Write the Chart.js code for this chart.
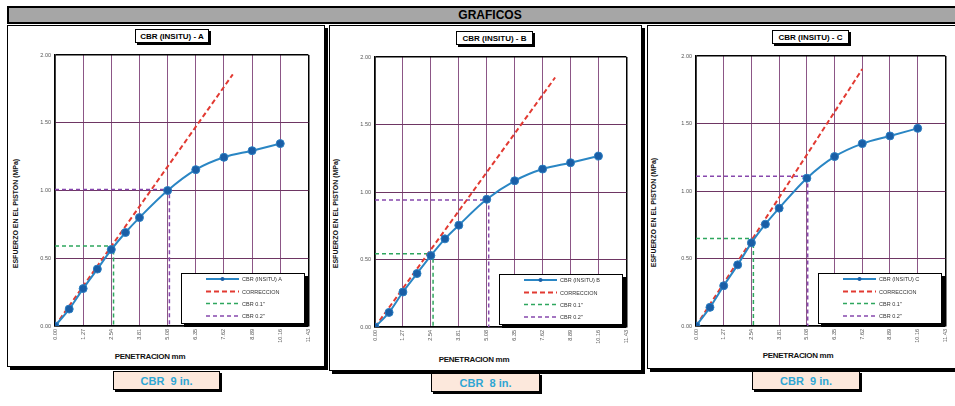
<!DOCTYPE html>
<html>
<head>
<meta charset="utf-8">
<title>GRAFICOS CBR</title>
<script src="https://cdn.jsdelivr.net/npm/chart.js@4.4.1/dist/chart.umd.min.js"></script>
<style>
  body { margin: 0; width: 955px; height: 406px; overflow: hidden; position: relative; background: #fff;
         font-family: 'Liberation Sans', Arial, sans-serif; }
  .header { position: absolute; left: 7px; top: 6px; width: 962px; height: 14px; background: #a6a6a6;
            border: 2px solid #000; text-align: center; font-weight: bold; font-size: 12px; line-height: 15px; }
  .panel { position: absolute; top: 25px; background: #fff; border: 1px solid #000; box-shadow: 3px 3px 0 #000; }
  .ttl { position: absolute; height: 12px; background: #fff; border: 1px solid #000; box-shadow: 2px 2px 0 #000;
         font-weight: bold; font-size: 8px; line-height: 13px; text-align: center; }
  .ytitle { position: absolute; width: 130px; height: 9px; font-weight: bold; font-size: 7px; line-height: 9px;
            text-align: center; transform: rotate(-90deg); color: #111; }
  .xtitle { position: absolute; width: 100px; height: 10px; font-weight: bold; font-size: 8px; line-height: 10px;
            text-align: center; letter-spacing: -0.3px; color: #111; }
  .cbr { position: absolute; height: 17px; background: #fce8dc; border: 1px solid #000; box-shadow: 2px 2px 0 #000;
         color: #2fa6d4; font-weight: bold; font-size: 11px; line-height: 18px; text-align: center; }
  canvas { position: absolute; }
</style>
</head>
<body>
<div class="header">GRAFICOS</div>

<div class="panel" style="left:7px;width:316px;height:340px;"></div>
<div class="panel" style="left:329px;width:311px;height:344px;"></div>
<div class="panel" style="left:647px;width:315px;height:342px;"></div>

<div class="ttl" style="left:135px;top:29px;width:72px;">CBR (INSITU) - A</div>
<div class="ttl" style="left:456px;top:31px;width:75px;">CBR (INSITU) - B</div>
<div class="ttl" style="left:772px;top:30px;width:75px;">CBR (INSITU) - C</div>

<div class="ytitle" style="left:-50px;top:209px;">ESFUERZO EN EL PISTON (MPa)</div>
<div class="ytitle" style="left:270px;top:209px;">ESFUERZO EN EL PISTON (MPa)</div>
<div class="ytitle" style="left:588px;top:208px;">ESFUERZO EN EL PISTON (MPa)</div>

<div class="xtitle" style="left:100px;top:352px;">PENETRACION mm</div>
<div class="xtitle" style="left:424px;top:355px;">PENETRACION mm</div>
<div class="xtitle" style="left:748px;top:351px;">PENETRACION mm</div>

<div class="cbr" style="left:113px;top:371px;width:105px;">CBR&nbsp; 9 in.</div>
<div class="cbr" style="left:431px;top:373px;width:107px;">CBR&nbsp; 8 in.</div>
<div class="cbr" style="left:752px;top:371px;width:106px;">CBR&nbsp; 9 in.</div>

<canvas id="chart-a"></canvas>
<canvas id="chart-b"></canvas>
<canvas id="chart-c"></canvas>

<script>
// penetracion (mm) y esfuerzo (MPa)
const xTicks = [0, 1.27, 2.54, 3.81, 5.08, 6.35, 7.62, 8.89, 10.16, 11.43];
const penetracion = [0, 0.64, 1.27, 1.91, 2.54, 3.18, 3.81, 5.08, 6.35, 7.62, 8.89, 10.16];
const esfuerzoA = [0, 0.125, 0.276, 0.42, 0.564, 0.69, 0.80, 1.00, 1.154, 1.245, 1.294, 1.346];
const esfuerzoB = [0, 0.108, 0.259, 0.396, 0.529, 0.653, 0.754, 0.946, 1.083, 1.17, 1.217, 1.266];
const esfuerzoC = [0, 0.138, 0.298, 0.453, 0.616, 0.754, 0.873, 1.095, 1.255, 1.351, 1.408, 1.464];

// linea de correccion: desde el origen hasta el punto final (A, B, C)
const corrEndX = [8.02, 8.19, 7.62];
const corrEndY = [1.857, 1.848, 1.903];
// CBR 0.1" y CBR 0.2" (A, B, C)
const cbr01X = [2.64, 2.64, 2.63];
const cbr01Y = [0.59, 0.542, 0.649];
const cbr02X = [5.16, 5.17, 5.12];
const cbr02Y = [1.007, 0.94, 1.109];

const seriesLabels = ['CBR (INSITU) A', 'CBR (INSITU) B', 'CBR (INSITU) C'];
const otherLabels = ['CORRECCION', 'CBR 0.1"', 'CBR 0.2"'];

const FONT = "'Liberation Sans', Arial, sans-serif";

// leyenda dentro del area del grafico, abajo a la derecha
const legendBox = {
  id: 'legendBox',
  afterDatasetsDraw(chart) {
    const { ctx, chartArea } = chart;
    const w = 124, h = 51;
    const x = Math.round(chartArea.right - 3 - w);
    const y = Math.round(chartArea.bottom - 2 - h);
    const rows = [6, 18.5, 30.5, 43];
    ctx.save();
    ctx.fillStyle = '#000';
    ctx.fillRect(x + 3, y + 3, w, h);
    ctx.fillStyle = '#fff';
    ctx.fillRect(x, y, w, h);
    ctx.strokeStyle = '#000';
    ctx.lineWidth = 1;
    ctx.strokeRect(x + 0.5, y + 0.5, w - 1, h - 1);
    chart.data.datasets.forEach((ds, i) => {
      const ry = y + rows[i];
      ctx.strokeStyle = ds.borderColor;
      ctx.lineWidth = ds.borderWidth;
      ctx.setLineDash(ds.borderDash || []);
      ctx.beginPath();
      ctx.moveTo(x + 25, ry);
      ctx.lineTo(x + 58, ry);
      ctx.stroke();
      ctx.setLineDash([]);
      if (ds.pointRadius) {
        ctx.fillStyle = ds.pointBackgroundColor;
        ctx.beginPath();
        ctx.arc(x + 41.5, ry, 2, 0, Math.PI * 2);
        ctx.fill();
      }
      ctx.fillStyle = '#333';
      ctx.font = '5.5px ' + FONT;
      ctx.textBaseline = 'middle';
      ctx.fillText(ds.label, x + 61, ry + 0.5);
    });
    ctx.restore();
  }
};

function makePanel(id, idx, values, area) {
  // area = plot area in page pixels: left, top, right, bottom
  const padL = 30, padT = 10, padR = 8, padB = 24;
  const canvas = document.getElementById(id);
  const left = area.left - padL, top = area.top - padT;
  const width = area.right + padR - left, height = area.bottom + padB - top;
  canvas.width = width; canvas.height = height;
  canvas.style.left = left + 'px'; canvas.style.top = top + 'px';
  canvas.style.width = width + 'px'; canvas.style.height = height + 'px';

  const blue = penetracion.map((p, i) => ({ x: p, y: values[i] }));
  const corr = [{ x: 0, y: 0 }, { x: corrEndX[idx], y: corrEndY[idx] }];
  const c01 = [{ x: 0, y: cbr01Y[idx] }, { x: cbr01X[idx], y: cbr01Y[idx] }, { x: cbr01X[idx], y: 0 }];
  const c02 = [{ x: 0, y: cbr02Y[idx] }, { x: cbr02X[idx], y: cbr02Y[idx] }, { x: cbr02X[idx], y: 0 }];

  return new Chart(canvas.getContext('2d'), {
    type: 'line',
    data: {
      datasets: [
        { label: seriesLabels[idx], data: blue, borderColor: '#2a86c4', borderWidth: 2,
          pointRadius: 4, pointBackgroundColor: '#1a5ea6', pointBorderColor: '#2c7fc2', pointBorderWidth: 1,
          cubicInterpolationMode: 'monotone' },
        { label: otherLabels[0], data: corr, borderColor: '#e23a32', borderWidth: 2, borderDash: [5, 3], pointRadius: 0 },
        { label: otherLabels[1], data: c01, borderColor: '#2ea65e', borderWidth: 1.5, borderDash: [4, 3], pointRadius: 0 },
        { label: otherLabels[2], data: c02, borderColor: '#8748ad', borderWidth: 1.5, borderDash: [4, 3], pointRadius: 0 }
      ]
    },
    options: {
      responsive: false,
      animation: false,
      devicePixelRatio: 1,
      layout: { padding: { top: padT, right: padR, left: 0, bottom: 0 } },
      plugins: { legend: { display: false }, tooltip: { enabled: false } },
      scales: {
        x: {
          type: 'linear', min: 0, max: 11.43,
          afterBuildTicks: s => { s.ticks = xTicks.map(v => ({ value: v })); },
          afterFit: s => { s.height = padB; },
          border: { display: true, color: '#000', width: 1.5 },
          grid: {
            drawTicks: false,
            color: c => (c.index === 0 || c.index === xTicks.length - 1) ? '#000' : '#8c5686',
            lineWidth: c => (c.index === 0 || c.index === xTicks.length - 1) ? 1.5 : 1
          },
          ticks: {
            autoSkip: false, minRotation: 90, maxRotation: 90, padding: 3,
            color: '#555', font: { family: FONT, size: 5.5 },
            callback: v => v.toFixed(2)
          }
        },
        y: {
          min: 0, max: 2,
          afterFit: s => { s.width = padL; },
          border: { display: true, color: '#000', width: 1.5 },
          grid: {
            drawTicks: false,
            color: c => (c.tick.value === 0 || c.tick.value === 2) ? '#000' : '#6e3663',
            lineWidth: c => (c.tick.value === 0 || c.tick.value === 2) ? 1.5 : 1
          },
          ticks: {
            stepSize: 0.5, padding: 4,
            color: '#555', font: { family: FONT, size: 5.5 },
            callback: v => v.toFixed(2)
          }
        }
      }
    },
    plugins: [legendBox]
  });
}

makePanel('chart-a', 0, esfuerzoA, { left: 55, top: 55, right: 310, bottom: 326 });
makePanel('chart-b', 1, esfuerzoB, { left: 375, top: 57, right: 628, bottom: 327 });
makePanel('chart-c', 2, esfuerzoC, { left: 696, top: 56, right: 947, bottom: 326 });
</script>
</body>
</html>
